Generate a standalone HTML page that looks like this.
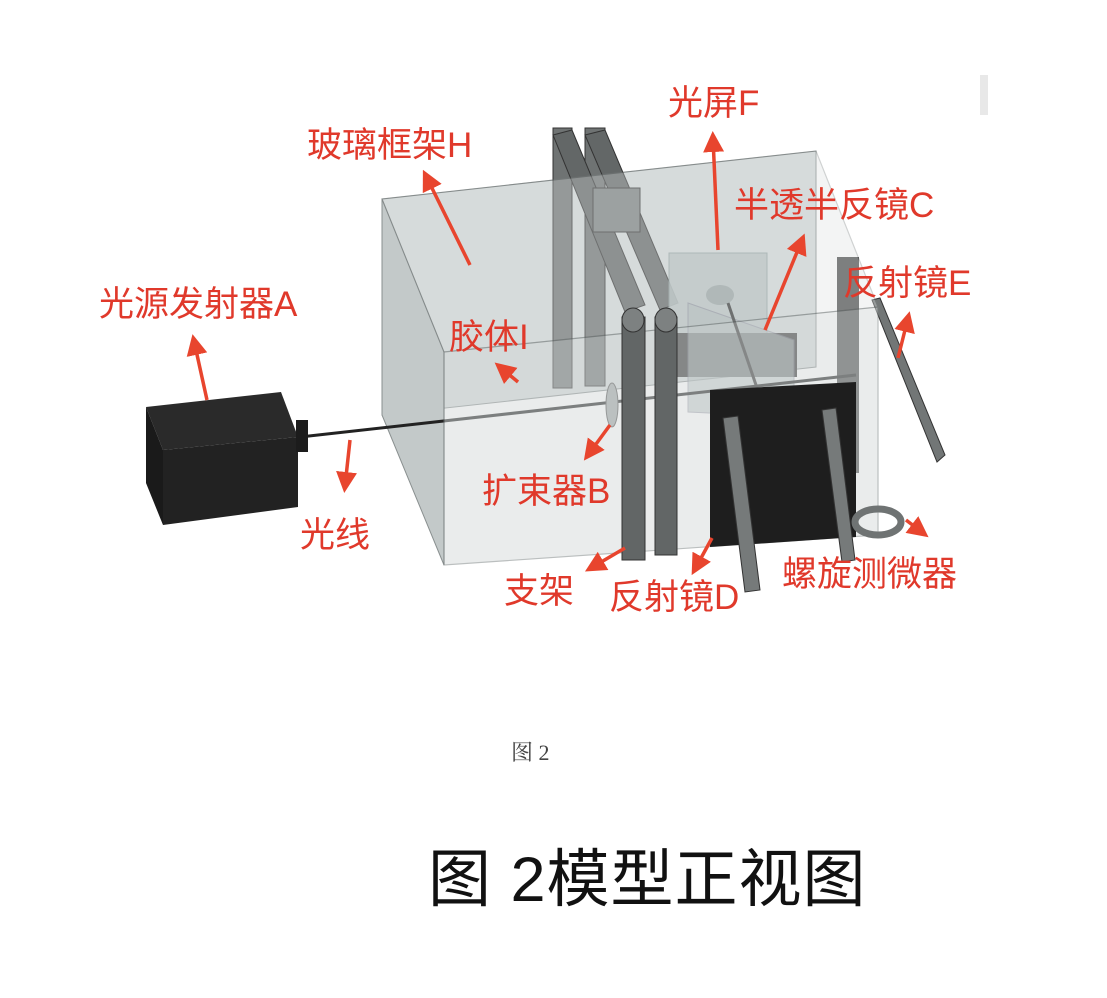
<!DOCTYPE html>
<html><head><meta charset="utf-8"><style>
html,body{margin:0;padding:0;background:#fff;}
svg{display:block;}
.t{font-family:"Liberation Sans","Noto Sans CJK SC",sans-serif;fill:#e0392b;font-size:35px;}
</style></head><body>
<svg width="1107" height="998" viewBox="0 0 1107 998" xmlns="http://www.w3.org/2000/svg">
<defs><marker id="ah" markerWidth="6" markerHeight="6" refX="4" refY="3" orient="auto" markerUnits="strokeWidth"><path d="M0,0 L6,3 L0,6 Z" fill="#e8452e"/></marker></defs>
<rect width="1107" height="998" fill="#fff"/>
<rect x="980" y="75" width="8" height="40" fill="#e8e8e8"/>
<!-- glass box back/left -->
<polygon points="382,199 816,151 816,367 382,415" fill="#d3d8d8" stroke="#8a9090" stroke-width="1"/>
<polygon points="382,199 444,352 444,565 382,415" fill="#c3c9c9" stroke="#8a9090" stroke-width="1"/>
<!-- back posts -->
<rect x="553" y="128" width="19" height="260" fill="#6f7373" stroke="#333" stroke-width="1"/>
<rect x="585" y="128" width="20" height="258" fill="#6f7373" stroke="#333" stroke-width="1"/>
<polygon points="553,135 572,130 645,305 625,312" fill="#636767" stroke="#333"/>
<polygon points="585,135 605,130 678,303 660,310" fill="#636767" stroke="#333"/>
<rect x="593" y="188" width="47" height="44" fill="#7a7f7f" stroke="#333"/>
<!-- screen F and mirror C -->
<rect x="669" y="253" width="98" height="97" fill="#b4bfbf" opacity="0.85" stroke="#8a9a9a"/>
<ellipse cx="720" cy="295" rx="14" ry="10" fill="#98a2a2"/>
<rect x="675" y="333" width="122" height="44" fill="#333"/>
<polygon points="688,303 794,340 794,417 688,412" fill="#a8b3b3" opacity="0.6" stroke="#778"/>
<line x1="728" y1="303" x2="756" y2="385" stroke="#333" stroke-width="3"/>
<!-- mirror E -->
<rect x="837" y="257" width="22" height="216" fill="#4a4a4a"/>
<polygon points="872,300 880,298 945,455 937,462" fill="#727676" stroke="#333"/>
<!-- top face -->
<polygon points="382,199 816,151 878,307 444,352" fill="#dde1e1" opacity="0.35" stroke="#7a8080" stroke-width="1.2"/>
<!-- beam -->
<line x1="300" y1="437" x2="856" y2="375" stroke="#222" stroke-width="3"/>
<ellipse cx="612" cy="405" rx="6" ry="22" fill="#a0a5a5" stroke="#555"/>
<!-- front face glass -->
<polygon points="444,352 878,307 878,535 444,565" fill="#d6dbdb" opacity="0.5" stroke="#7a8080" stroke-width="1.2"/>
<!-- front posts -->
<rect x="622" y="317" width="23" height="243" fill="#626666" stroke="#333"/>
<rect x="655" y="317" width="22" height="238" fill="#626666" stroke="#333"/>
<ellipse cx="633" cy="320" rx="11" ry="12" fill="#7d8181" stroke="#333"/>
<ellipse cx="666" cy="320" rx="11" ry="12" fill="#7d8181" stroke="#333"/>
<!-- mirror D -->
<polygon points="710,390 856,382 856,537 710,547" fill="#1e1e1e"/>
<polygon points="723,418 738,416 760,590 745,592" fill="#767a7a" stroke="#333"/>
<polygon points="822,410 836,408 855,560 842,562" fill="#767a7a" stroke="#333"/>
<!-- micrometer -->
<ellipse cx="878" cy="522" rx="23" ry="13" fill="none" stroke="#6f7373" stroke-width="7"/>
<!-- light source A -->
<polygon points="146,407 281,392 298,437 163,450" fill="#2a2a2a"/>
<polygon points="146,407 163,450 163,525 146,483" fill="#1a1a1a"/>
<polygon points="163,450 298,437 298,507 163,525" fill="#222"/>
<rect x="296" y="420" width="12" height="32" fill="#1c1c1c"/>
<!-- arrows -->
<g stroke="#e8452e" stroke-width="3.5" fill="none" marker-end="url(#ah)">
<line x1="470" y1="265" x2="426" y2="176"/>
<line x1="718" y1="250" x2="713" y2="138"/>
<line x1="765" y1="330" x2="802" y2="240"/>
<line x1="898" y1="358" x2="908" y2="318"/>
<line x1="207" y1="400" x2="194" y2="341"/>
<line x1="518" y1="382" x2="500" y2="367"/>
<line x1="610" y1="425" x2="588" y2="455"/>
<line x1="350" y1="440" x2="345" y2="486"/>
<line x1="625" y1="548" x2="591" y2="568"/>
<line x1="712" y1="538" x2="695" y2="569"/>
<line x1="906" y1="520" x2="923" y2="533"/>
</g>
<!-- labels -->
<text class="t" x="307" y="157">玻璃框架H</text>
<text class="t" x="668" y="115">光屏F</text>
<text class="t" x="734" y="217">半透半反镜C</text>
<text class="t" x="843" y="295">反射镜E</text>
<text class="t" x="99" y="316">光源发射器A</text>
<text class="t" x="449" y="349">胶体I</text>
<text class="t" x="482" y="503">扩束器B</text>
<text class="t" x="300" y="547">光线</text>
<text class="t" x="504" y="603">支架</text>
<text class="t" x="609" y="609">反射镜D</text>
<text class="t" x="782" y="586">螺旋测微器</text>
<text x="511" y="760" font-family="'Liberation Serif','Noto Serif CJK SC',serif" font-size="22" fill="#444">图 2</text>
<text x="428" y="901" font-family="'Liberation Sans','Noto Sans CJK SC',sans-serif" font-size="63" letter-spacing="1" fill="#111">图 2模型正视图</text>
</svg>
</body></html>
